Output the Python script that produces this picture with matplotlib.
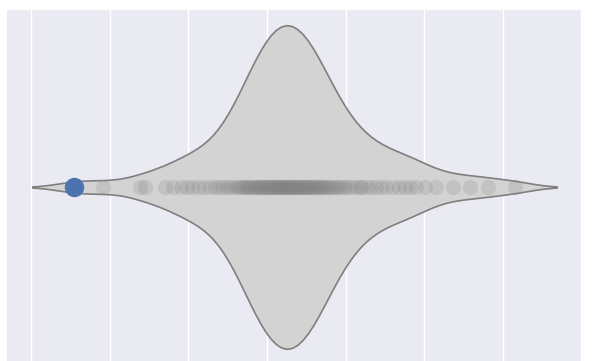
import numpy as np
import matplotlib
matplotlib.use("Agg")
import matplotlib.pyplot as plt
import seaborn as sns

# Highlighted observation (lowest value)
highlight = -2.46

left_tail = [-2.08, -1.62, -1.55, -1.30, -1.20, -1.02, -0.95]
core_low = [0.25, 0.23, 0.22, 0.20, 0.19, 0.17, 0.16, 0.14, 0.13, 0.11,
            0.10, 0.08, 0.06, 0.05, 0.03, 0.02, 0.00, -0.02, -0.03, -0.05,
            -0.07, -0.09, -0.11, -0.12, -0.14, -0.16, -0.18, -0.21, -0.23,
            -0.25, -0.27, -0.30, -0.32, -0.35, -0.38, -0.42, -0.47, -0.51,
            -0.56, -0.61, -0.66, -0.72, -0.80, -0.88, -1.10]
core_high = [0.26, 0.28, 0.29, 0.30, 0.32, 0.33, 0.35, 0.36, 0.38, 0.40,
             0.41, 0.43, 0.44, 0.46, 0.47, 0.49, 0.51, 0.52, 0.54, 0.56,
             0.58, 0.59, 0.61, 0.63, 0.65, 0.67, 0.69, 0.71, 0.73, 0.76,
             0.78, 0.80, 0.83, 0.86, 0.89, 0.92, 0.95, 0.99, 1.03, 1.08,
             1.13, 1.19, 1.27, 1.39, 1.60]
right_tail = [1.20, 1.32, 1.45, 1.52, 1.68, 1.76, 1.82, 1.89, 2.01, 2.15,
              2.37, 2.58, 2.81, 3.16]

values = np.array([highlight] + left_tail + core_low + core_high + right_tail)

sns.set_theme(style="darkgrid")

fig = plt.figure(figsize=(5.92, 3.61), dpi=100)
ax = fig.add_axes([6 / 592, -4 / 361, 577 / 592, 356 / 361])

sns.violinplot(x=values, ax=ax, color="lightgray", linecolor="gray",
               inner=None, width=0.91, saturation=1, linewidth=1.2,
               bw_adjust=0.72)
sns.stripplot(x=values, ax=ax, jitter=False, color="gray", alpha=0.2,
              size=11, linewidth=0)
ax.scatter([highlight], [0], s=14 ** 2, color="#4C72B0", zorder=5,
           linewidth=0)

ax.set_xlabel("")
ax.set_ylabel("")
ax.set_xticklabels([])
ax.set_yticklabels([])
ax.tick_params(length=0)

fig.savefig("out.png", dpi=100)
